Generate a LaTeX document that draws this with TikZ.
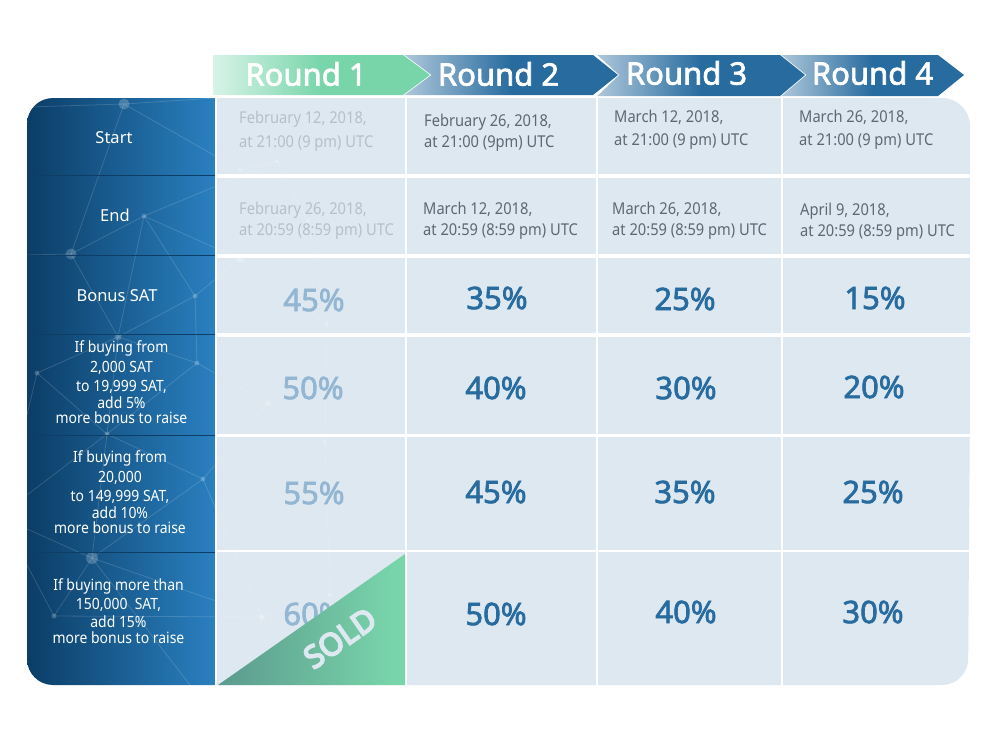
\documentclass[tikz,border=0pt]{standalone}
\usepackage{fontspec}
\setmainfont{Noto Sans}
\newfontfamily\narrowfont{Noto Sans}[FakeStretch=0.9]
\newfontfamily\heavyfont{Noto Sans}[FakeBold=2.2]
\newfontfamily\blackfont{Noto Sans}[FakeBold=5.5]
\definecolor{panelDark}{HTML}{0B3D66}
\definecolor{panelLight}{HTML}{2A80C0}
\definecolor{rowLine}{HTML}{0E3E66}
\definecolor{cellFill}{HTML}{DEE8F0}
\definecolor{greenLight}{HTML}{D8F3E8}
\definecolor{greenMid}{HTML}{78D5AA}
\definecolor{blueLight}{HTML}{AFC8DB}
\definecolor{blueMid}{HTML}{286C9F}
\definecolor{soldDark}{HTML}{5C9A8E}
\definecolor{dateText}{HTML}{5C6874}
\definecolor{dateFaint}{HTML}{B5C0CB}
\definecolor{pctText}{HTML}{286C9F}
\definecolor{pctFaint}{HTML}{93B6D3}
\pgfdeclarehorizontalshading{panelshade}{100bp}{color(0bp)=(panelDark); color(25bp)=(panelDark); color(75bp)=(panelLight); color(100bp)=(panelLight)}
\pgfdeclarehorizontalshading{greenshade}{100bp}{color(0bp)=(greenLight); color(25bp)=(greenLight); color(50bp)=(greenMid); color(100bp)=(greenMid)}
\pgfdeclarehorizontalshading{blueshade}{100bp}{color(0bp)=(blueLight); color(25bp)=(blueLight); color(50bp)=(blueMid); color(100bp)=(blueMid)}
\pgfdeclarehorizontalshading{soldshade}{100bp}{color(0bp)=(soldDark); color(25bp)=(soldDark); color(72bp)=(greenMid); color(100bp)=(greenMid)}
\tikzset{
	roundlabel/.style={text=white,font=\fontsize{31}{36}\selectfont\heavyfont},
	rowlabel/.style={text=white,align=center,font=\fontsize{16.5}{20}\selectfont},
	buylabel/.style={text=white,align=center,font=\fontsize{15.5}{20}\selectfont\narrowfont},
	datetext/.style={anchor=west,align=left,inner sep=0pt,text=dateText,font=\fontsize{16.3}{21}\selectfont\narrowfont},
	datefaint/.style={datetext,text=dateFaint},
	pct/.style={text=pctText,font=\fontsize{31}{36}\selectfont\heavyfont},
	pctfaint/.style={pct,text=pctFaint},
	netline/.style={white,opacity=0.15,line width=0.8pt},
	netdot/.style={white,opacity=0.2},
	gridline/.style={white,line width=3.5pt},
}
\begin{document}
\begin{tikzpicture}[x=1pt,y=-1pt]
	\useasboundingbox (0,0) rectangle (1000,750);
	% table background
	\fill[cellFill] (216,98) [rounded corners=28pt] -- (970,98) [sharp corners] -- (970,400) [rounded corners=26pt] -- (968,685) [sharp corners] -- (216,685) -- cycle;
	% left panel
	\shade[shading=panelshade,rounded corners=26pt] (215,98) -- (27,98) -- (27,685) [sharp corners] -- (215,685) -- cycle;
	% network
	\coordinate (n1) at (124,104);
	\coordinate (n2) at (71,254);
	\coordinate (n3) at (144,216);
	\coordinate (n4) at (195,296);
	\coordinate (n5) at (118,337);
	\coordinate (n6) at (240,170);
	\coordinate (n7) at (277,161);
	\coordinate (n8) at (240,259);
	\coordinate (n9) at (308,221);
	\coordinate (n10) at (327,324);
	\coordinate (n11) at (37,373);
	\coordinate (n12) at (197,363);
	\coordinate (n13) at (107,434);
	\coordinate (n14) at (203,479);
	\coordinate (n15) at (268,403);
	\coordinate (n16) at (325,442);
	\coordinate (n17) at (92,558);
	\coordinate (n18) at (54,616);
	\coordinate (n19) at (262,617);
	\coordinate (n20) at (330,595);
	\coordinate (e1) at (27,107);
	\coordinate (e2) at (27,255);
	\coordinate (e3) at (27,415);
	\coordinate (e4) at (27,495);
	\coordinate (e5) at (27,529);
	\coordinate (e6) at (27,565);
	\coordinate (e7) at (190,685);
	\coordinate (e8) at (240,685);
	\coordinate (e9) at (215,98);
	\begin{scope}
		\clip[rounded corners=26pt] (27,98) rectangle (406,685);
		\draw[netline] (e1) -- (n1) -- (n2) -- (e2);
		\draw[netline] (e9) -- (n1) -- (n6) -- (n7);
		\draw[netline] (n2) -- (n3) -- (n7);
		\draw[netline] (n2) -- (n5) -- (n3) -- (n4) -- (n5);
		\draw[netline] (n3) -- (n8) -- (n4) -- (n12);
		\draw[netline] (n6) -- (n8) -- (n10) -- (n9) -- (n7);
		\draw[netline] (n5) -- (n11) -- (e3);
		\draw[netline] (n5) -- (n13) -- (n11);
		\draw[netline] (n5) -- (n12) -- (n13) -- (e4);
		\draw[netline] (n12) -- (n15) -- (n14) -- (n13) -- (n17);
		\draw[netline] (n14) -- (n17) -- (e5);
		\draw[netline] (n17) -- (n18) -- (e6);
		\draw[netline] (n18) -- (n19) -- (n17);
		\draw[netline] (n17) -- (e7);
		\draw[netline] (n19) -- (n20) -- (n16) -- (n15);
		\draw[netline] (n16) -- (n10);
		\draw[netline] (n14) -- (n19) -- (e8);
		\fill[netdot] (n1) circle (5.5);
		\fill[netdot] (n2) circle (5.5);
		\fill[netdot] (n3) circle (2.5);
		\fill[netdot] (n4) circle (2.5);
		\fill[netdot] (n5) circle (3.5);
		\fill[netdot] (n6) circle (2);
		\fill[netdot] (n7) circle (2);
		\fill[netdot] (n8) circle (4);
		\fill[netdot] (n9) circle (2);
		\fill[netdot] (n10) circle (2);
		\fill[netdot] (n11) circle (2.5);
		\fill[netdot] (n12) circle (2.5);
		\fill[netdot] (n13) circle (2.5);
		\fill[netdot] (n14) circle (2.5);
		\fill[netdot] (n15) circle (3);
		\fill[netdot] (n16) circle (2);
		\fill[netdot] (n17) circle (6);
		\fill[netdot] (n18) circle (2.5);
		\fill[netdot] (n19) circle (3);
		\fill[netdot] (n20) circle (2);
	\end{scope}
	% row lines on panel
	\draw[rowLine,line width=1pt] (27,175) -- (215,175);
	\draw[rowLine,line width=1pt] (27,255) -- (215,255);
	\draw[rowLine,line width=1pt] (27,334) -- (215,334);
	\draw[rowLine,line width=1pt] (27,435) -- (215,435);
	\draw[rowLine,line width=1pt] (27,552) -- (215,552);
	% grid
	\draw[gridline] (216,176) -- (970,176);
	\draw[gridline] (216,256) -- (970,256);
	\draw[gridline] (216,335) -- (970,335);
	\draw[gridline,line width=3pt] (216,435.5) -- (970,435.5);
	\draw[gridline,line width=2pt] (216,551) -- (970,551);
	\draw[gridline,line width=2pt] (216,98) -- (216,685);
	\draw[gridline,line width=2pt] (406,98) -- (406,685);
	\draw[gridline,line width=2pt] (597,98) -- (597,685);
	\draw[gridline,line width=2pt] (782,98) -- (782,685);
	% round headers
	\shade[shading=blueshade] (780,55) -- (938,55) -- (964,75) -- (938,96) -- (780,96) -- (805,75) -- cycle;
	\draw[white,line width=1.5pt] (780,55) -- (805,75) -- (780,96);
	\shade[shading=blueshade] (596,55) -- (780,55) -- (805,75) -- (780,96) -- (596,96) -- (618,75) -- cycle;
	\draw[white,line width=1.5pt] (596,55) -- (618,75) -- (596,96);
	\shade[shading=blueshade] (403,55) -- (593,55) -- (618,75) -- (593,95) -- (403,95) -- (430,75) -- cycle;
	\draw[white,line width=1.5pt] (403,55) -- (430,75) -- (403,95);
	\shade[shading=greenshade] (213,55) -- (403,55) -- (430,75) -- (403,95) -- (213,95) -- cycle;
	\node[roundlabel] (round1) at (306,74) {Round 1};
	\node[roundlabel] (round2) at (498.5,74) {Round 2};
	\node[roundlabel] (round3) at (686.5,73) {Round 3};
	\node[roundlabel] (round4) at (872.5,73) {Round 4};
	% row labels
	\node[rowlabel] (start) at (114,138) {Start};
	\node[rowlabel] (end) at (115,215) {End};
	\node[rowlabel] (bonus) at (117,296) {Bonus SAT};
	\node[buylabel] (buya) at (121.5,382) {If buying from\\2,000 SAT\\[-0.5pt]to 19,999 SAT,\\[-3pt]add 5\%\\[-5.5pt]more bonus to raise};
	\node[buylabel] (buyb) at (120,492) {If buying from\\20,000\\[-0.5pt]to 149,999 SAT,\\[-3pt]add 10\%\\[-5.5pt]more bonus to raise};
	\node[buylabel] (buyc) at (118.5,611.5) {If buying more than\\[-1pt]150,000~~SAT,\\[-2pt]add 15\%\\[-4pt]more bonus to raise};
	% dates
	\node[datefaint,font=\fontsize{16.3}{24}\selectfont\narrowfont] (starta) at (239,131) {February 12, 2018,\\at 21:00 (9 pm) UTC};
	\node[datetext] (startb) at (424,132.5) {February 26, 2018,\\at 21:00 (9pm) UTC};
	\node[datetext,font=\fontsize{16.3}{23}\selectfont\narrowfont] (startc) at (614,129.5) {March 12, 2018,\\at 21:00 (9 pm) UTC};
	\node[datetext,font=\fontsize{16.3}{23}\selectfont\narrowfont] (startd) at (799,129.5) {March 26, 2018,\\at 21:00 (9 pm) UTC};
	\node[datefaint] (enda) at (239,220.5) {February 26, 2018,\\at 20:59 (8:59 pm) UTC};
	\node[datetext] (endb) at (423,220.5) {March 12, 2018,\\at 20:59 (8:59 pm) UTC};
	\node[datetext] (endc) at (612,220.5) {March 26, 2018,\\at 20:59 (8:59 pm) UTC};
	\node[datetext] (endd) at (800,221.5) {April 9, 2018,\\at 20:59 (8:59 pm) UTC};
	% bonus values
	\node[pctfaint] (bonusa) at (314,300) {45\%};
	\node[pct] (bonusb) at (497,298) {35\%};
	\node[pct] (bonusc) at (685,299) {25\%};
	\node[pct] (bonusd) at (875,298) {15\%};
	\node[pctfaint] (buyaa) at (313,388) {50\%};
	\node[pct] (buyab) at (496,388) {40\%};
	\node[pct] (buyac) at (686,388) {30\%};
	\node[pct] (buyad) at (874,387) {20\%};
	\node[pctfaint] (buyba) at (314,493) {55\%};
	\node[pct] (buybb) at (496,492) {45\%};
	\node[pct] (buybc) at (685,492) {35\%};
	\node[pct] (buybd) at (873,492) {25\%};
	\node[pctfaint] (buyca) at (314,614) {60\%};
	\node[pct] (buycb) at (496,614) {50\%};
	\node[pct] (buycc) at (686,612) {40\%};
	\node[pct] (buycd) at (873,612) {30\%};
	% sold corner
	\shade[shading=soldshade] (218,685) -- (405,554) -- (405,685) -- cycle;
	\node[rotate=35,text=cellFill,font=\fontsize{31}{36}\selectfont\blackfont] (sold) at (340,638) {SOLD};
\end{tikzpicture}
\end{document}
